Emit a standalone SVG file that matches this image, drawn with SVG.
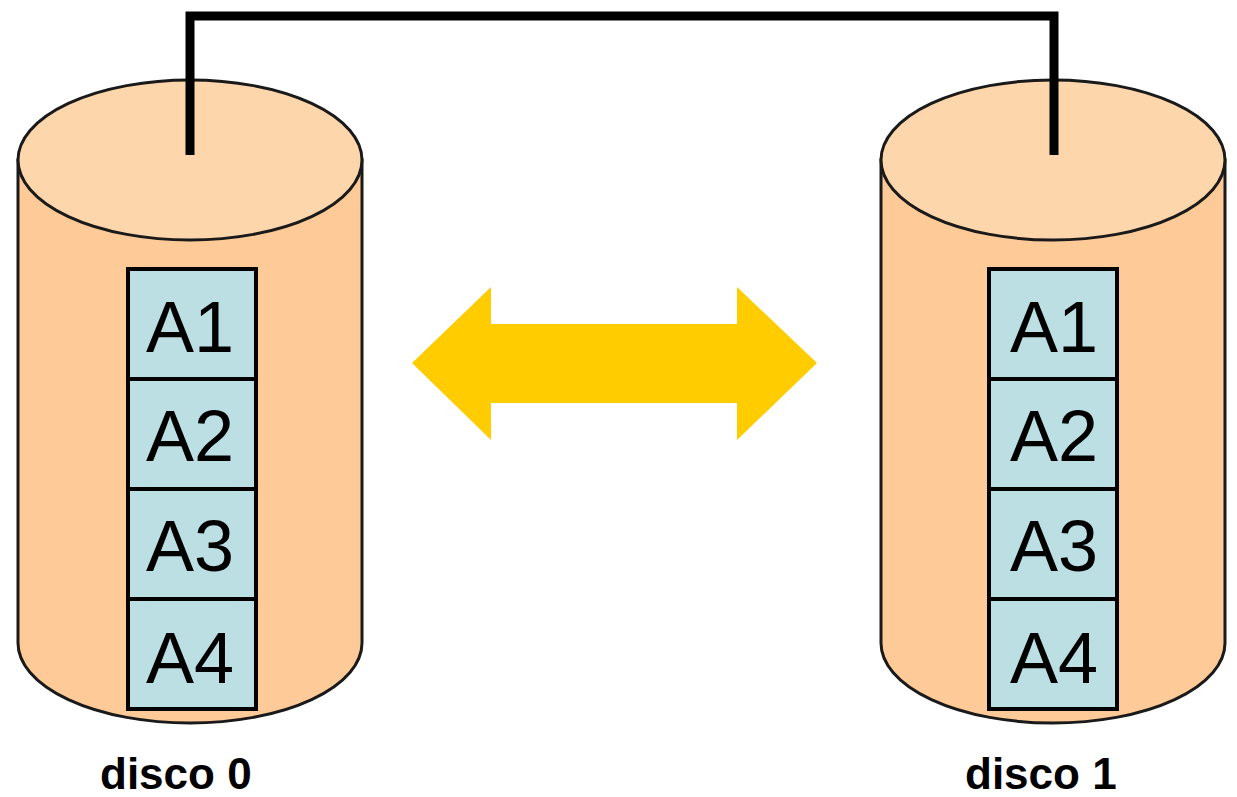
<svg xmlns="http://www.w3.org/2000/svg" width="1237" height="797" viewBox="0 0 1237 797">
<style>
.body{fill:#FECB98;stroke:#1a1a1a;stroke-width:3}
.top{fill:#FDD6AC;stroke:#1a1a1a;stroke-width:3}
.cell{fill:#BBDFE2;stroke:#000;stroke-width:4}
.lbl{font-family:"Liberation Sans",Arial,sans-serif;font-size:72px;fill:#000;text-anchor:middle}
.cap{font-family:"Liberation Sans",Arial,sans-serif;font-size:44px;font-weight:bold;fill:#000}
.cable{fill:none;stroke:#000;stroke-width:9;stroke-linejoin:miter}
</style>
<rect width="1237" height="797" fill="#fff"/>
<g id="disco0">
<path class="body" d="M18,160 L18,643 A172,80 0 0 0 362,643 L362,160 Z"/>
<ellipse class="top" cx="190" cy="160" rx="172" ry="80"/>
<rect class="cell" x="128" y="269" width="128" height="110"/>
<rect class="cell" x="128" y="379" width="128" height="110"/>
<rect class="cell" x="128" y="489" width="128" height="110"/>
<rect class="cell" x="128" y="599" width="128" height="110"/>
<text class="lbl" x="190" y="352">A1</text>
<text class="lbl" x="190" y="461">A2</text>
<text class="lbl" x="190" y="571">A3</text>
<text class="lbl" x="190" y="683">A4</text>
<text class="cap" x="100" y="789">disco 0</text>
</g>
<g id="disco1">
<path class="body" d="M881,160 L881,643 A172,80 0 0 0 1225,643 L1225,160 Z"/>
<ellipse class="top" cx="1053" cy="160" rx="172" ry="80"/>
<rect class="cell" x="989" y="269" width="128" height="110"/>
<rect class="cell" x="989" y="379" width="128" height="110"/>
<rect class="cell" x="989" y="489" width="128" height="110"/>
<rect class="cell" x="989" y="599" width="128" height="110"/>
<text class="lbl" x="1054" y="352">A1</text>
<text class="lbl" x="1054" y="461">A2</text>
<text class="lbl" x="1054" y="571">A3</text>
<text class="lbl" x="1054" y="683">A4</text>
<text class="cap" x="965" y="789">disco 1</text>
</g>
<g id="connectors">
<path class="cable" d="M190,155 V16 H1054 V155"/>
<polygon fill="#FFCC00" points="412,363 491,287 491,324 737,324 737,287 817,363 737,440 737,403 491,403 491,440"/>
</g>
</svg>
